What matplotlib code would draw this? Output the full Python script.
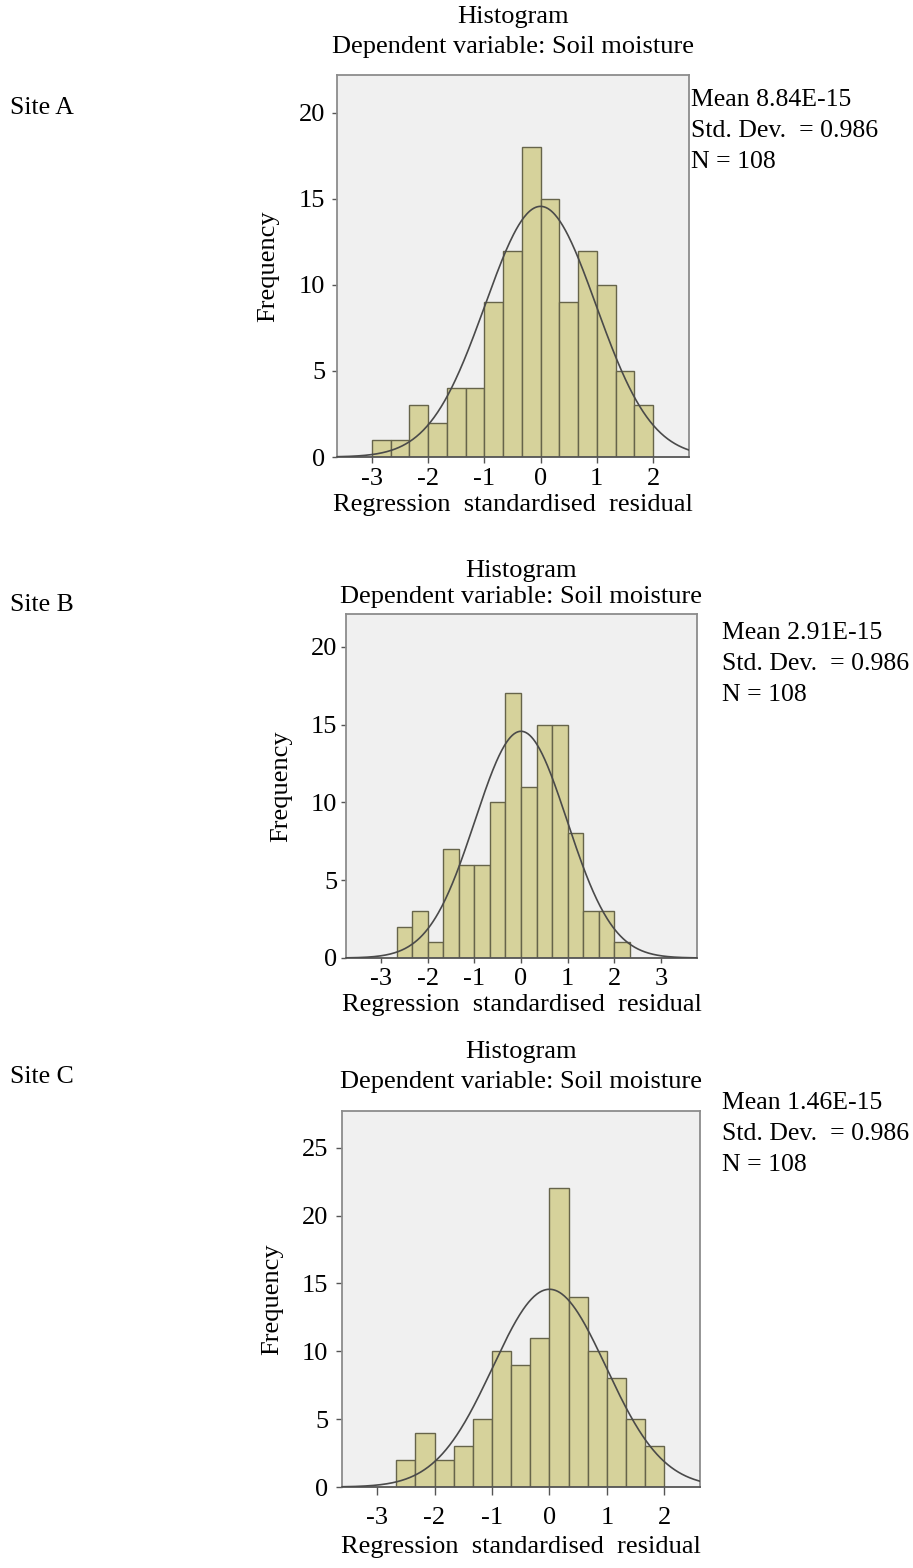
import numpy as np
import matplotlib
matplotlib.use("Agg")
import matplotlib.pyplot as plt

plt.rcParams['font.family'] = ['Liberation Serif', 'DejaVu Serif']
plt.rcParams['axes.unicode_minus'] = False

sites = ['Site A', 'Site B', 'Site C']
means = ['8.84E-15', '2.91E-15', '1.46E-15']
std_dev = 0.986
n_obs = 108

# bin counts, bin width 1/3
counts_a = [1, 1, 3, 2, 4, 4, 9, 12, 18, 15, 9, 12, 10, 5, 3]
counts_b = [2, 3, 1, 7, 6, 6, 10, 17, 11, 15, 15, 8, 3, 3, 1]
counts_c = [2, 4, 2, 3, 5, 10, 9, 11, 22, 14, 10, 8, 5, 3]
start_a = -3.0
start_b = -8 / 3
start_c = -8 / 3

xticks_a = [-3, -2, -1, 0, 1, 2]
xticks_b = [-3, -2, -1, 0, 1, 2, 3]
xticks_c = [-3, -2, -1, 0, 1, 2]
yticks_a = [0, 5, 10, 15, 20]
yticks_b = [0, 5, 10, 15, 20]
yticks_c = [0, 5, 10, 15, 20, 25]

bar_color = '#d6d29b'
edge_color = '#66644a'
bg_color = '#f0f0f0'
fs = 19

W, H = 913, 1568
fig = plt.figure(figsize=(W / 100, H / 100), dpi=100)

# layout in pixels
panels = [
    dict(counts=counts_a, start=start_a, xlim=(-3.62, 2.64), ylim=(0, 22.2), xt=xticks_a, yt=yticks_a,
         box=(337, 75, 689, 457), titles=(17, 47), stats=(691, 100), site=108,
         xtick=(6, 5), ytick=(5, 7), xlab=505, ylab=268),
    dict(counts=counts_b, start=start_b, xlim=(-3.75, 3.77), ylim=(0, 22.1), xt=xticks_b, yt=yticks_b,
         box=(346, 614, 697, 958), titles=(571, 597), stats=(722, 633), site=605,
         xtick=(5, 5), ytick=(5, 4), xlab=1005, ylab=281),
    dict(counts=counts_c, start=start_c, xlim=(-3.61, 2.62), ylim=(0, 27.7), xt=xticks_c, yt=yticks_c,
         box=(342, 1111, 700, 1487), titles=(1052, 1082), stats=(722, 1103), site=1077,
         xtick=(8, 12), ytick=(6, 8), xlab=1547, ylab=272),
]

px = 0.72  # points per pixel at dpi 100

for i, p in enumerate(panels):
    l, t, r, b = p['box']
    ax = fig.add_axes([l / W, 1 - b / H, (r - l) / W, (b - t) / H])
    ax.set_facecolor(bg_color)
    width = 1 / 3
    edges = p['start'] + width * np.arange(len(p['counts']))
    ax.bar(edges, p['counts'], width=width, align='edge', color=bar_color,
           edgecolor=edge_color, linewidth=1.0, zorder=2)
    xs = np.linspace(p['xlim'][0], p['xlim'][1], 400)
    ys = n_obs * width / (std_dev * np.sqrt(2 * np.pi)) * np.exp(-0.5 * (xs / std_dev) ** 2)
    ax.plot(xs, ys, color='#4a4a4a', linewidth=1.2, zorder=3)
    ax.set_xlim(*p['xlim'])
    ax.set_ylim(*p['ylim'])
    ax.set_xticks(p['xt'])
    ax.set_yticks(p['yt'])
    ax.tick_params(axis='x', labelsize=fs, length=p['xtick'][0] * px, pad=p['xtick'][1] * px,
                   width=1, color='#555555')
    ax.tick_params(axis='y', labelsize=fs, length=p['ytick'][0] * px, pad=p['ytick'][1] * px,
                   width=1, color='#555555')
    for s in ax.spines.values():
        s.set_color('#8c8c8c')
        s.set_linewidth(1.3)
    ax.spines['bottom'].set_color('#555555')

    ax.set_xlabel('Regression  standardised  residual', fontsize=fs, va='center')
    ax.xaxis.set_label_coords(0.5, (b - p['xlab']) / (b - t))
    ax.set_ylabel('Frequency', fontsize=fs, va='center')
    ax.yaxis.set_label_coords((p['ylab'] - l) / (r - l), 0.5)

    cx = (l + r) / 2 / W
    fig.text(cx, 1 - p['titles'][0] / H, 'Histogram', ha='center', va='center', fontsize=fs)
    fig.text(cx, 1 - p['titles'][1] / H, 'Dependent variable: Soil moisture',
             ha='center', va='center', fontsize=fs)
    sx, sy = p['stats']
    fig.text(sx / W, 1 - sy / H, 'Mean ' + means[i], ha='left', va='center', fontsize=18.5)
    fig.text(sx / W, 1 - (sy + 31) / H, 'Std. Dev.  = %.3f' % std_dev, ha='left', va='center', fontsize=18.5)
    fig.text(sx / W, 1 - (sy + 62) / H, 'N = %d' % n_obs, ha='left', va='center', fontsize=18.5)
    fig.text(10 / W, 1 - p['site'] / H, sites[i], ha='left', va='center', fontsize=18.5)

fig.savefig('out.png', dpi=100, facecolor='white')
